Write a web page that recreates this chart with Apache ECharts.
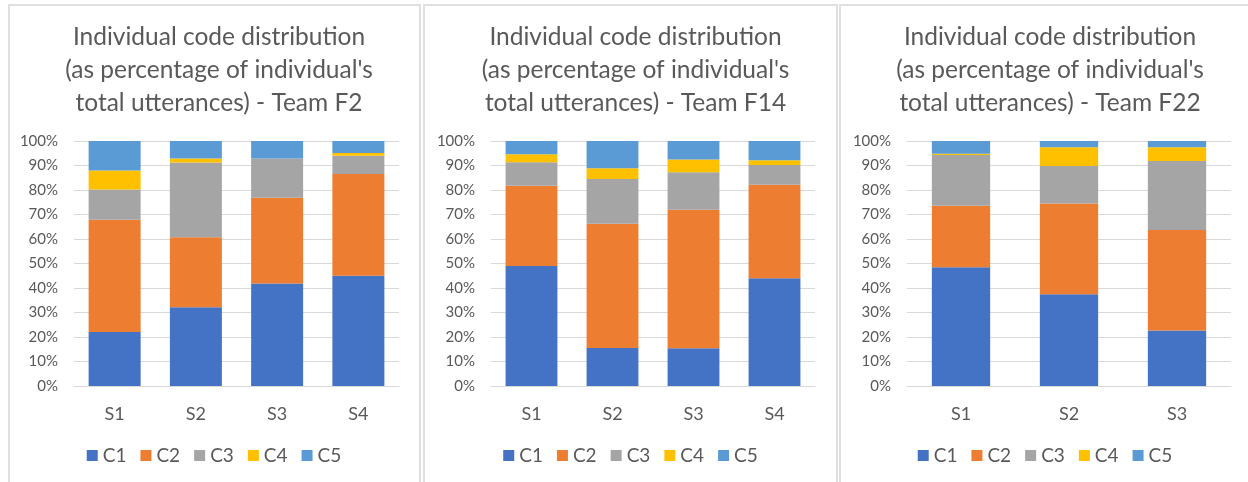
<!DOCTYPE html>
<html>
<head>
<meta charset="utf-8">
<script src="https://cdn.jsdelivr.net/npm/echarts@6/dist/echarts.min.js"></script>
<style>
  html, body { margin: 0; padding: 0; background: #fff; width: 1248px; height: 482px; overflow: hidden; }
  .frame { position: absolute; top: 4px; height: 500px; border: 2px solid #e0e0e0; border-bottom: none; box-sizing: border-box; }
  .chart { position: absolute; top: 0; height: 482px; }
</style>
</head>
<body>
<div class="frame" style="left:8px;width:413px;"></div>
<div class="frame" style="left:423px;width:415px;"></div>
<div class="frame" style="left:839px;width:420px;"></div>
<div id="c1" class="chart" style="left:8px;width:412px;"></div>
<div id="c2" class="chart" style="left:424px;width:413px;"></div>
<div id="c3" class="chart" style="left:840px;width:410px;"></div>
<script>
  // codes and colours (Office palette)
  var codes = ['C1', 'C2', 'C3', 'C4', 'C5'];
  var codeColors = ['#4472C4', '#ED7D31', '#A5A5A5', '#FFC000', '#5B9BD5'];

  // percentages, one row per code
  var sessionsF2 = ['S1', 'S2', 'S3', 'S4'];
  var teamF2 = [
    [22.0, 32.1, 41.8, 45.0],
    [45.9, 28.6, 35.0, 41.5],
    [12.3, 30.5, 16.1, 7.5],
    [7.8, 1.7, 0, 1.1],
    [12.0, 7.1, 7.1, 4.9]
  ];

  var sessionsF14 = ['S1', 'S2', 'S3', 'S4'];
  var teamF14 = [
    [49.0, 15.5, 15.4, 44.0],
    [32.7, 50.7, 56.5, 38.1],
    [9.6, 18.3, 15.3, 8.1],
    [3.3, 4.4, 5.2, 1.9],
    [5.4, 11.1, 7.6, 7.9]
  ];

  var sessionsF22 = ['S1', 'S2', 'S3'];
  var teamF22 = [
    [48.5, 37.5, 22.7],
    [25.1, 37.0, 41.0],
    [20.7, 15.3, 28.1],
    [0.5, 7.6, 5.6],
    [5.2, 2.6, 2.6]
  ];

  var yTicks = { min: 0, max: 100, interval: 10 };

  var font = 'Lato, "Open Sans", sans-serif';
  var textColor = '#595959';

  function drawTeam(el, title, sessions, rows, grid, barWidth) {
    var chart = echarts.init(document.getElementById(el));
    var series = codes.map(function (code, i) {
      return {
        name: code,
        type: 'bar',
        stack: 'total',
        barWidth: barWidth,
        itemStyle: { color: codeColors[i] },
        data: rows[i]
      };
    });
    chart.setOption({
      animation: false,
      title: {
        text: 'Individual code distribution\n(as percentage of individual\'s\ntotal utterances) - Team ' + title,
        left: '50%',
        top: 16,
        textAlign: 'center',
        textStyle: { fontFamily: font, fontSize: 24.5, fontWeight: 'normal', color: textColor, lineHeight: 33 }
      },
      grid: grid,
      legend: {
        data: codes,
        bottom: 12,
        left: 'center',
        itemWidth: 11,
        itemHeight: 11,
        itemGap: 14,
        icon: 'rect',
        textStyle: { fontFamily: font, fontSize: 19, color: textColor }
      },
      xAxis: {
        type: 'category',
        data: sessions,
        axisLine: { lineStyle: { color: '#d9d9d9' } },
        axisTick: { show: false },
        axisLabel: { fontFamily: font, fontSize: 18, color: textColor, margin: 19 }
      },
      yAxis: {
        type: 'value',
        min: yTicks.min,
        max: yTicks.max,
        interval: yTicks.interval,
        axisLine: { show: false },
        axisTick: { show: false },
        splitLine: { lineStyle: { color: '#d9d9d9' } },
        axisLabel: { formatter: '{value}%', fontFamily: font, fontSize: 15, color: textColor, margin: 16 }
      },
      series: series
    });
  }

  drawTeam('c1', 'F2', sessionsF2, teamF2, { left: 66, right: 21, top: 141, bottom: 96 }, '64%');
  drawTeam('c2', 'F14', sessionsF14, teamF14, { left: 67, right: 22, top: 141, bottom: 96 }, '64%');
  drawTeam('c3', 'F22', sessionsF22, teamF22, { left: 67, right: 19, top: 141, bottom: 96 }, '54%');
</script>
</body>
</html>
